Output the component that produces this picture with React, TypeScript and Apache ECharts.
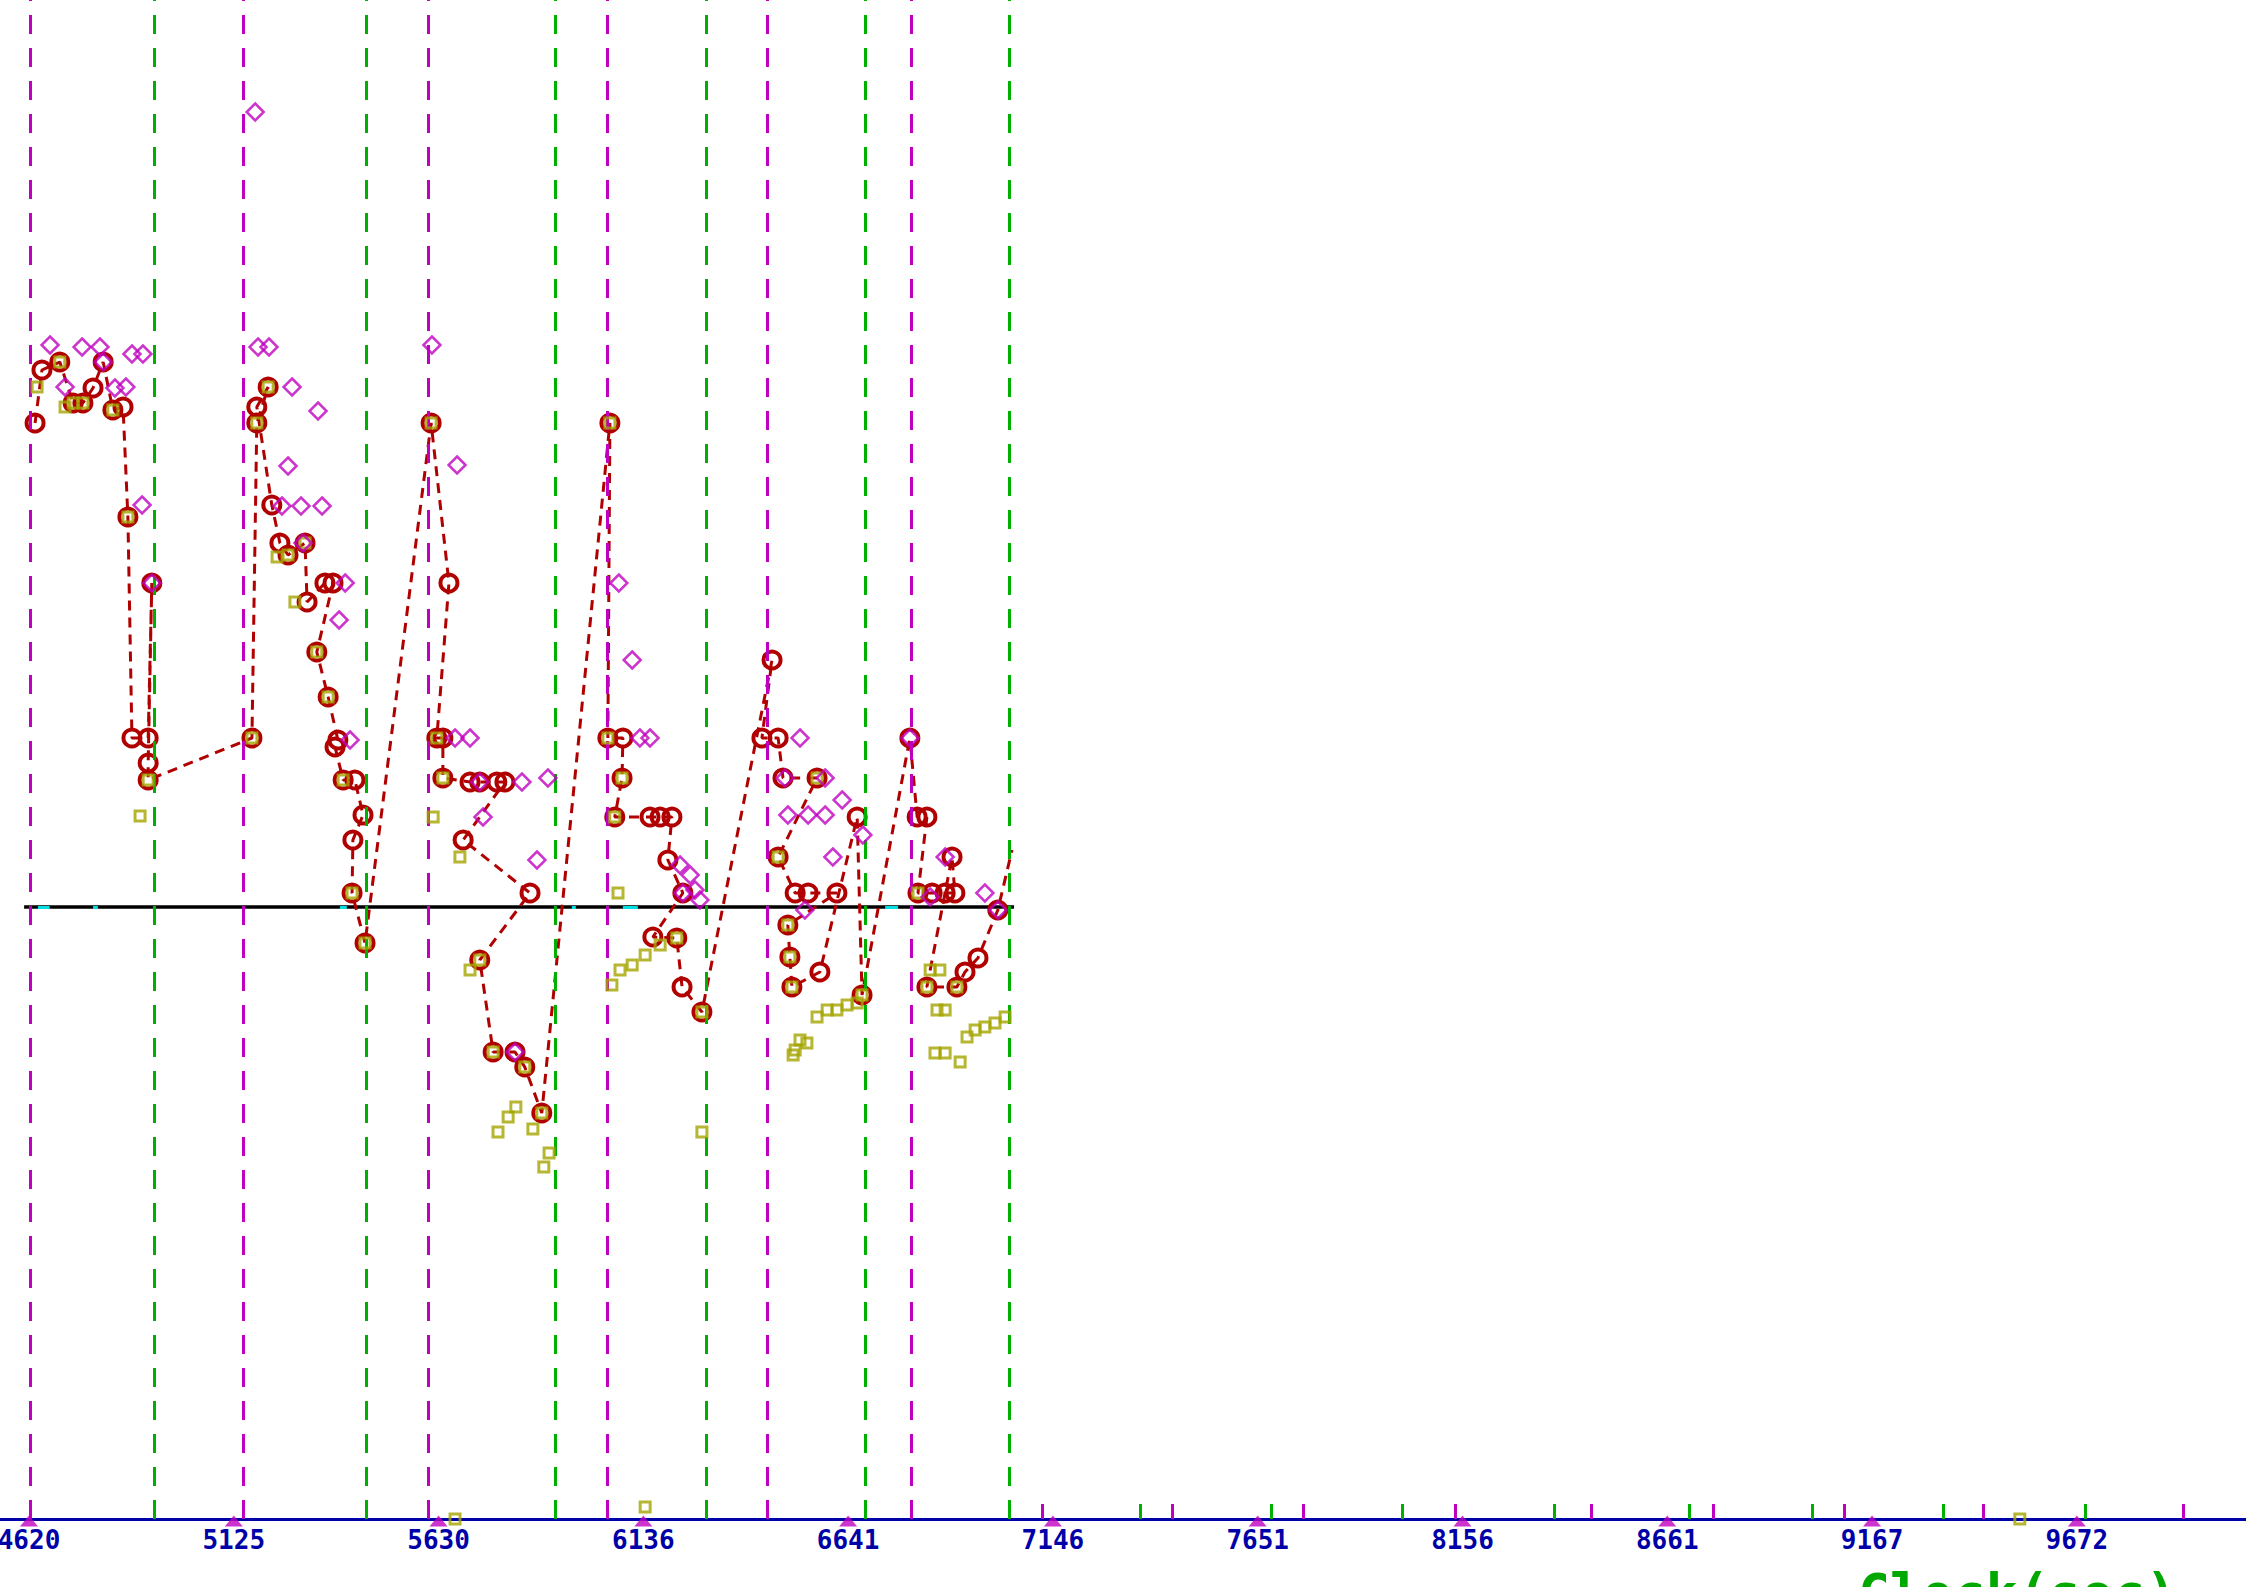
import React, { useEffect, useRef } from "react";
import * as echarts from "echarts";

// axis ranges (seconds on x, arbitrary level on y; 0 = black reference line)
const X_MIN = 4548.5;
const X_MAX = 10089;
const Y_MIN = -612;
const Y_MAX = 907;

const tickValues = [4620, 5125.17, 5630.34, 6135.51, 6640.68, 7145.85, 7651.02, 8156.19, 8661.36, 9166.53, 9671.7];
const tickLabels = ["4620", "5125", "5630", "6136", "6641", "7146", "7651", "8156", "8661", "9167", "9672"];

const magentaLines = [4622, 5148, 5604, 6046, 6440, 6796];
const greenLines = [4928, 5451, 5918, 6290, 6682, 7038];
const magentaTicks = [7119, 7440, 7763, 8138, 8473, 8774, 9097, 9440, 9934];
const greenTicks = [7361, 7684, 8007, 8382, 8715, 9018, 9342, 9692];

const redPoints: number[][] = [
  [4635, 484], [4652, 537], [4696, 545], [4729, 504], [4753, 504], [4778, 519], [4803, 545], [4827, 497], [4852, 500],
  [4864, 390], [4874, 169], [4914, 169], [4923, 324], [4914, 144], [4914, 127],
  [5170, 169], [5182, 484], [5210, 520], [5182, 500], [5219, 402], [5239, 364], [5259, 352], [5301, 364], [5306, 305],
  [5350, 324], [5370, 324], [5330, 255], [5358, 210], [5382, 167], [5375, 160], [5395, 127], [5424, 127], [5444, 92],
  [5419, 67], [5417, 14], [5449, -36],
  [5612, 484], [5656, 324], [5626, 169], [5641, 169], [5641, 129], [5708, 125], [5732, 125], [5774, 125], [5794, 125],
  [5691, 67], [5856, 14], [5732, -53], [5765, -145], [5819, -145], [5843, -160], [5885, -206],
  [6053, 484], [6048, 169], [6085, 169], [6083, 129], [6065, 90], [6152, 90], [6177, 90], [6206, 90], [6196, 47],
  [6233, 14], [6159, -30], [6218, -31], [6231, -80], [6280, -105],
  [6453, 247], [6428, 169], [6468, 169], [6480, 129], [6564, 129], [6468, 50], [6510, 14], [6542, 14], [6613, 14],
  [6492, -18], [6497, -50], [6502, -80], [6571, -65], [6663, 90], [6675, -88],
  [6793, 169], [6811, 90], [6835, 90], [6813, 14], [6848, 14], [6880, 14], [6904, 14], [6897, 50], [6835, -80],
  [6909, -80], [6929, -65], [6961, -51], [7010, -3], [7045, 57],
];

const diamondPoints: number[][] = [
  [4672, 562], [4751, 560], [4795, 560], [4803, 545], [4709, 520], [4832, 519], [4859, 520], [4874, 553], [4901, 553],
  [4899, 402], [4923, 324],
  [5178, 795], [5185, 560], [5212, 560], [5269, 520], [5333, 496], [5259, 441], [5244, 401], [5291, 401], [5343, 401],
  [5296, 364], [5400, 324], [5385, 287], [5412, 167],
  [5614, 562], [5676, 442], [5671, 169], [5708, 169], [5732, 125], [5836, 125], [5900, 129], [5740, 90], [5873, 47],
  [5819, -145],
  [6075, 324], [6108, 247], [6127, 169], [6152, 169], [6226, 42], [6251, 32], [6263, 17], [6275, 7], [6233, 14],
  [6522, 169], [6485, 129], [6584, 129], [6492, 92], [6542, 92], [6584, 92], [6626, 107], [6603, 50], [6534, -3],
  [6677, 72],
  [6793, 169], [6880, 50], [6978, 14], [7010, -3], [6843, 10],
];

const olivePoints: number[][] = [
  [4640, 520], [4696, 545], [4709, 500], [4729, 504], [4753, 504], [4827, 497], [4864, 390], [4894, 91], [4914, 127],
  [5170, 169], [5182, 484], [5210, 520], [5232, 350], [5259, 352], [5276, 305], [5301, 364], [5330, 255], [5358, 210],
  [5395, 127], [5417, 14], [5449, -36],
  [5612, 484], [5617, 90], [5626, 169], [5641, 129], [5683, 50], [5708, -63], [5732, -53], [5765, -145], [5777, -225],
  [5802, -210], [5821, -200], [5843, -160], [5863, -222], [5885, -206], [5890, -260], [5903, -246],
  [6048, 169], [6053, 484], [6058, -78], [6065, 90], [6073, 14], [6078, -63], [6083, 129], [6108, -58], [6140, -48],
  [6177, -38], [6218, -31], [6280, -105], [6280, -225],
  [6468, 50], [6492, -18], [6497, -50], [6502, -80], [6505, -148], [6510, -143], [6522, -133], [6539, -136],
  [6564, 129], [6564, -110], [6589, -103], [6613, -103], [6638, -98], [6663, -96], [6675, -88],
  [6813, 14], [6835, -80], [6843, -63], [6855, -146], [6860, -103], [6867, -63], [6880, -103], [6880, -146],
  [6909, -80], [6917, -155], [6934, -130], [6954, -123], [6978, -120], [7003, -116], [7028, -110],
];

const axisOlive: number[][] = [[5671, -612], [6140, -600], [9531, -612]];

const baseline: number[][] = [[4608, 0], [7050, 0]];
const cyanSegments: number[][] = [[4642, 4671], [4778, 4790], [5387, 5404], [5959, 5969], [6085, 6122], [6732, 6764]];

const RED = "#b00000";
const MAGENTA = "#c000c0";
const GREEN = "#00b000";
const OLIVE = "#a4a400";
const BLUE = "#0000a8";

export default function App() {
  const ref = useRef<HTMLDivElement>(null);

  useEffect(() => {
    if (!ref.current) return;
    const chart = echarts.init(ref.current, undefined, { renderer: "svg" });

    const fullLines = [
      ...magentaLines.map((v) => ({ xAxis: v, lineStyle: { color: MAGENTA } })),
      ...greenLines.map((v) => ({ xAxis: v, lineStyle: { color: GREEN } })),
    ];
    const shortTicks = [
      ...magentaTicks.map((v) => [
        { coord: [v, Y_MIN], lineStyle: { color: MAGENTA, type: "solid" } },
        { coord: [v, Y_MIN + 15] },
      ]),
      ...greenTicks.map((v) => [
        { coord: [v, Y_MIN], lineStyle: { color: GREEN, type: "solid" } },
        { coord: [v, Y_MIN + 15] },
      ]),
    ];
    const cyan = cyanSegments.map((s) => [
      { coord: [s[0], 0], lineStyle: { color: "#00e0e0", type: "solid", width: 3 } },
      { coord: [s[1], 0] },
    ]);

    const redData = redPoints.map((p, i) =>
      i === redPoints.length - 1 ? { value: p, symbol: "none" } : { value: p }
    );

    chart.setOption({
      animation: false,
      backgroundColor: "#ffffff",
      grid: { left: 0, right: 0, top: 0, bottom: 68, containLabel: false, outerBoundsMode: "none" },
      xAxis: {
        type: "value",
        min: X_MIN,
        max: X_MAX,
        axisLine: { show: true, onZero: false, lineStyle: { color: BLUE, width: 3 } },
        axisTick: { show: false },
        splitLine: { show: false },
        axisLabel: {
          customValues: tickValues,
          color: BLUE,
          fontFamily: "DejaVu Sans Mono",
          fontWeight: "bold",
          fontSize: 26,
          margin: 8,
          formatter: (v: number) => {
            let best = 0;
            for (let i = 1; i < tickValues.length; i++) {
              if (Math.abs(tickValues[i] - v) < Math.abs(tickValues[best] - v)) best = i;
            }
            return tickLabels[best];
          },
        },
      },
      yAxis: {
        type: "value",
        min: Y_MIN,
        max: Y_MAX,
        show: false,
        splitLine: { show: false },
      },
      graphic: [
        {
          type: "text",
          left: 1858,
          top: 1567,
          silent: true,
          style: {
            text: "Clock(sec)",
            fill: "#00a800",
            font: "bold 53px 'DejaVu Sans Mono'",
          },
        },
      ],
      series: [
        {
          type: "line",
          name: "ref",
          data: baseline,
          symbol: "none",
          z: 2,
          lineStyle: { color: "#000000", width: 3.5 },
          silent: true,
          markLine: {
            silent: true,
            symbol: ["none", "none"],
            label: { show: false },
            emphasis: { disabled: true },
            lineStyle: { type: [19, 14], width: 3 },
            data: [...fullLines, ...shortTicks, ...cyan],
          },
        },
        {
          type: "line",
          name: "level",
          data: redData,
          z: 4,
          symbol: "circle",
          symbolSize: 17,
          showAllSymbol: true,
          lineStyle: { color: RED, width: 3, type: [10, 7] },
          itemStyle: { color: "rgba(255,255,255,0)", borderColor: RED, borderWidth: 4 },
          silent: true,
        },
        {
          type: "scatter",
          name: "olive",
          data: olivePoints,
          z: 5,
          symbol: "rect",
          symbolSize: 10,
          itemStyle: { color: "rgba(255,255,255,0)", borderColor: OLIVE, borderWidth: 3 },
          silent: true,
        },
        {
          type: "scatter",
          name: "diamond",
          data: diamondPoints,
          z: 6,
          symbol: "diamond",
          symbolSize: 17,
          itemStyle: { color: "rgba(255,255,255,0)", borderColor: MAGENTA, borderWidth: 2.5 },
          silent: true,
        },
        {
          type: "scatter",
          name: "axisOlive",
          data: axisOlive,
          z: 7,
          clip: false,
          symbol: "rect",
          symbolSize: 10,
          itemStyle: { color: "rgba(255,255,255,0)", borderColor: OLIVE, borderWidth: 3 },
          silent: true,
        },
        {
          type: "scatter",
          name: "ticks",
          data: tickValues.map((v) => [v, Y_MIN]),
          z: 7,
          clip: false,
          symbol: "triangle",
          symbolSize: [18, 11],
          symbolOffset: [0, 2],
          itemStyle: { color: MAGENTA },
          silent: true,
        },
      ],
    });

    return () => chart.dispose();
  }, []);

  return (
    <div
      ref={ref}
      style={{ position: "absolute", left: 0, top: 0, width: 2246, height: 1587, background: "#fff" }}
    />
  );
}
